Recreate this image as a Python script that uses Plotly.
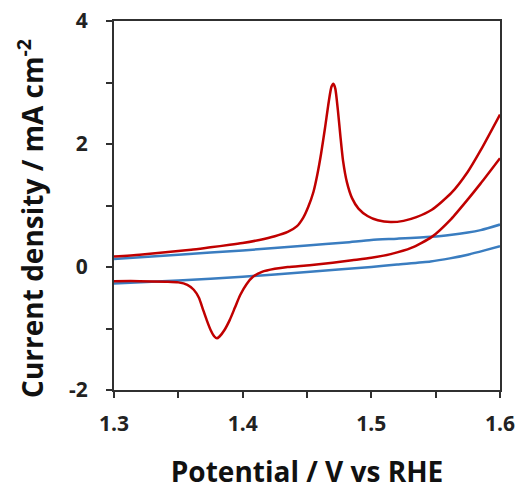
import plotly.graph_objects as go

# Red CV, anodic (forward) scan 1.3 -> 1.6 V
red_fwd_v = [1.300, 1.320, 1.340, 1.360, 1.375, 1.390, 1.400, 1.413, 1.425, 1.435, 1.442, 1.447,
             1.451, 1.455, 1.458, 1.461, 1.464, 1.467, 1.469, 1.4705, 1.472, 1.474, 1.476,
             1.478, 1.481, 1.485, 1.490, 1.497, 1.505, 1.515, 1.525, 1.535, 1.547, 1.562,
             1.575, 1.585, 1.600]
red_fwd_j = [0.17, 0.20, 0.24, 0.28, 0.32, 0.36, 0.39, 0.44, 0.50, 0.57, 0.66, 0.80,
             0.98, 1.22, 1.50, 1.85, 2.26, 2.70, 2.93, 2.98, 2.90, 2.55, 2.12,
             1.73, 1.38, 1.12, 0.95, 0.83, 0.76, 0.73, 0.75, 0.81, 0.93, 1.20,
             1.55, 1.90, 2.48]

# Red CV, cathodic (reverse) scan 1.6 -> 1.3 V
red_rev_v = [1.600, 1.585, 1.575, 1.562, 1.547, 1.531, 1.515, 1.500,
             1.485, 1.470, 1.452, 1.435, 1.425, 1.415, 1.408, 1.403, 1.398, 1.394, 1.390,
             1.386, 1.382, 1.380, 1.378, 1.375, 1.372, 1.369, 1.366, 1.362, 1.357, 1.350,
             1.340, 1.320, 1.300]
red_rev_j = [1.77, 1.36, 1.10, 0.78, 0.49, 0.31, 0.21, 0.15,
             0.11, 0.07, 0.03, 0.00, -0.03, -0.08, -0.16, -0.28, -0.46, -0.66, -0.86,
             -1.02, -1.13, -1.16, -1.13, -1.02, -0.86, -0.68, -0.50, -0.37, -0.29, -0.25,
             -0.24, -0.23, -0.23]

# Blue CV
blue_fwd_v = [1.300, 1.350, 1.400, 1.450, 1.480, 1.500, 1.520, 1.546, 1.561, 1.585, 1.600]
blue_fwd_j = [0.13, 0.20, 0.27, 0.35, 0.40, 0.44, 0.46, 0.49, 0.52, 0.60, 0.69]
blue_rev_v = [1.600, 1.588, 1.575, 1.561, 1.546, 1.520, 1.500, 1.450, 1.400, 1.350, 1.300]
blue_rev_j = [0.34, 0.27, 0.20, 0.14, 0.09, 0.04, 0.00, -0.08, -0.16, -0.22, -0.27]

x_ticks = [1.3, 1.35, 1.4, 1.45, 1.5, 1.55, 1.6]
x_text = ["1.3", "", "1.4", "", "1.5", "", "1.6"]
y_ticks = [-2, -1, 0, 1, 2, 3, 4]
y_text = ["-2", "", "0", "", "2", "", "4"]
x_title = "Potential / V vs RHE"
y_title = "Current density / mA cm<sup>-2</sup>"

BLUE = "#3A7DC0"
RED = "#C00000"

fig = go.Figure()
for xs, ys, col in [(blue_fwd_v, blue_fwd_j, BLUE), (blue_rev_v, blue_rev_j, BLUE),
                    (red_fwd_v, red_fwd_j, RED), (red_rev_v, red_rev_j, RED)]:
    fig.add_trace(go.Scatter(x=xs, y=ys, mode="lines", cliponaxis=True,
                             line=dict(color=col, width=2.5, shape="spline", smoothing=0.6)))

axis_common = dict(showgrid=False, zeroline=False, showline=True, linecolor="#303030",
                   linewidth=2, mirror=True, ticks="outside", ticklen=6, tickwidth=2,
                   tickcolor="#303030", automargin=False, ticklabeloverflow="allow",
                   tickfont=dict(family="Open Sans", size=21, color="#222222", weight="bold"))

fig.update_layout(
    width=522, height=490,
    margin=dict(l=114, r=22, t=21, b=100),
    paper_bgcolor="white", plot_bgcolor="white",
    showlegend=False,
    xaxis=dict(range=[1.3, 1.6], tickvals=x_ticks, ticktext=x_text,
               title=dict(text=x_title,
                          font=dict(family="Open Sans", size=28, color="#111111", weight="bold"),
                          standoff=30),
               ticklabelstandoff=8, **axis_common),
    yaxis=dict(range=[-2, 4], tickvals=y_ticks, ticktext=y_text,
               ticklabelstandoff=14, **axis_common),
    annotations=[dict(text=y_title, xref="paper", yref="paper", x=-0.218, y=0.466,
                      xanchor="center", yanchor="middle", textangle=-90, showarrow=False,
                      font=dict(family="Open Sans", size=28, color="#111111", weight="bold"))],
)

# remove the browser's default 8px body margin so the figure fills the window exactly
fig.write_html("out.html", config={"displayModeBar": False},
               post_script="document.body.style.margin='0';")
